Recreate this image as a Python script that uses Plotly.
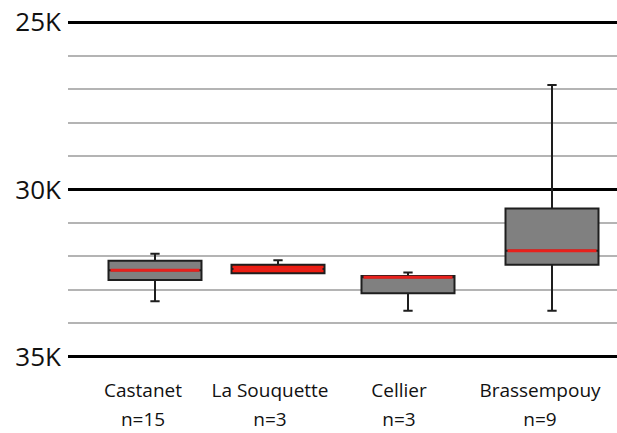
import plotly.graph_objects as go

# ---- data (years BP) ----
sites = ["Castanet", "La Souquette", "Cellier", "Brassempouy"]
n_labels = ["n=15", "n=3", "n=3", "n=9"]
lower_whisker = [31920, 32110, 32480, 26880]
q1_vals = [32130, 32250, 32580, 30570]
median_vals = [32410, 32370, 32620, 31830]
q3_vals = [32700, 32500, 33100, 32250]
upper_whisker = [33340, 32500, 33620, 33620]
y_ticks = [25000, 30000, 35000]
y_tick_text = ["25K", "30K", "35K"]

# ---- layout constants (x in pixel-like units across the plot) ----
box_pos = [87, 210, 340, 484]
label_pos = [75, 202, 331, 472]
box_fill = ["#808080", "#ee1c0e", "#808080", "#808080"]

fig = go.Figure()
for i in range(len(sites)):
    fig.add_trace(go.Box(
        x=[box_pos[i]], q1=[q1_vals[i]], median=[median_vals[i]], q3=[q3_vals[i]],
        lowerfence=[lower_whisker[i]], upperfence=[upper_whisker[i]],
        width=93, whiskerwidth=0.1, fillcolor=box_fill[i],
        line=dict(color="#1e1e1e", width=2), boxpoints=False,
        hoverinfo="skip", showlegend=False,
    ))
    # red median line
    fig.add_trace(go.Box(
        x=[box_pos[i]], q1=[median_vals[i]], median=[median_vals[i]], q3=[median_vals[i]],
        lowerfence=[median_vals[i]], upperfence=[median_vals[i]],
        width=89, whiskerwidth=0, fillcolor="rgba(0,0,0,0)",
        line=dict(color="#e8201c", width=3), boxpoints=False,
        hoverinfo="skip", showlegend=False,
    ))

fig.update_layout(
    width=617, height=433,
    margin=dict(l=68, r=0, t=17, b=71),
    paper_bgcolor="white", plot_bgcolor="white",
    font=dict(family="Open Sans", color="#111"),
    boxmode="overlay",
    xaxis=dict(
        range=[0, 549], showgrid=False, zeroline=False, showline=False, automargin=False,
        tickmode="array", tickvals=label_pos, ticktext=sites, ticks="",
        tickfont=dict(size=19, color="#111"), ticklabelstandoff=15,
    ),
    xaxis2=dict(
        overlaying="x", matches="x", side="bottom", anchor="y", automargin=False,
        range=[0, 549], showgrid=False, zeroline=False, showline=False,
        tickmode="array", tickvals=label_pos, ticktext=n_labels, ticks="",
        tickfont=dict(size=19, color="#111"), ticklabelstandoff=44,
    ),
    yaxis=dict(
        range=[35150, 24850], zeroline=False, showline=False, automargin=False,
        tickmode="array", tickvals=y_ticks, ticktext=y_tick_text, ticks="",
        tickfont=dict(size=26, color="#111"), ticklabelstandoff=6,
        showgrid=True, gridcolor="#000000", gridwidth=3,
        minor=dict(tickmode="linear", tick0=25000, dtick=1000, showgrid=True,
                   gridcolor="#b4b4b4", gridwidth=2, ticks=""),
    ),
)
# dummy trace to make xaxis2 render
fig.add_trace(go.Scatter(x=[label_pos[0]], y=[None], xaxis="x2", showlegend=False,
                         hoverinfo="skip", mode="markers"))

fig.write_html("out.html", config={"displayModeBar": False},
               post_script="document.body.style.margin='0';document.body.style.overflow='hidden';")
